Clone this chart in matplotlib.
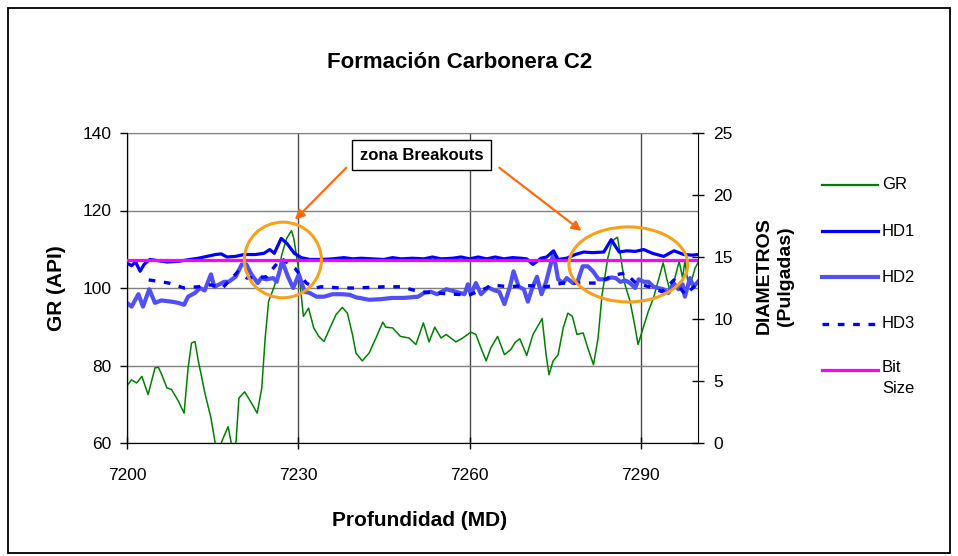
import matplotlib
matplotlib.use("Agg")
import matplotlib.pyplot as plt
from matplotlib.patches import Ellipse, Rectangle
from matplotlib.lines import Line2D

plt.rcParams['font.family'] = ['Liberation Sans', 'DejaVu Sans']

# ---- data ----
gr_depth = [7200.1, 7200.8, 7201.7, 7202.6, 7203.7, 7204.9, 7205.5, 7206.1, 7207.0, 7207.8,
            7209.0, 7210.0, 7210.7, 7211.3, 7211.9, 7212.5, 7213.7, 7214.7, 7215.4, 7216.0,
            7216.6, 7217.7, 7218.6, 7219.1, 7219.6, 7220.6, 7221.6, 7222.8, 7223.6, 7224.2,
            7224.8, 7225.7, 7226.6, 7227.1, 7228.0, 7228.8, 7229.2, 7230.1, 7230.5, 7230.9,
            7231.8, 7232.7, 7233.6, 7234.5, 7235.4, 7236.6, 7237.7, 7238.6, 7239.5, 7240.1,
            7241.2, 7242.4, 7243.6, 7244.8, 7245.3, 7246.5, 7247.9, 7249.4, 7250.6, 7251.9,
            7252.9, 7253.9, 7255.0, 7255.9, 7257.6, 7258.8, 7260.2, 7261.1, 7262.0, 7262.9,
            7263.7, 7264.9, 7266.1, 7267.2, 7268.0, 7268.8, 7270.0, 7271.1, 7272.7, 7273.4,
            7273.9, 7274.6, 7275.5, 7276.4, 7277.2, 7278.0, 7278.8, 7279.9, 7280.7, 7281.7,
            7282.5, 7283.2, 7284.2, 7284.8, 7285.3, 7285.9, 7286.5, 7287.2, 7288.1, 7289.0,
            7289.5, 7290.4, 7291.3, 7292.2, 7293.0, 7293.9, 7294.5, 7295.1, 7295.8, 7296.7,
            7297.3, 7297.7, 7298.3, 7299.0, 7299.5, 7300.0]
gr_api = [75.0, 76.3, 75.5, 77.2, 72.5, 79.4, 79.5, 77.6, 74.2, 73.8,
          70.8, 67.7, 79.4, 85.8, 86.2, 81.1, 72.5, 66.5, 60.4, 57.0,
          60.4, 64.2, 57.5, 60.5, 71.6, 73.2, 70.8, 67.7, 74.2, 87.1,
          96.6, 100.0, 104.3, 108.6, 112.9, 114.8, 112.9, 104.3, 98.3, 92.7,
          94.8, 89.7, 87.5, 86.2, 89.2, 93.1, 95.0, 93.5, 87.9, 83.2,
          81.2, 83.2, 87.1, 91.2, 89.9, 89.7, 87.5, 87.1, 85.4, 91.0,
          86.1, 89.9, 87.1, 88.0, 86.1, 87.1, 88.6, 88.0, 84.5, 81.2,
          84.5, 87.5, 82.8, 84.1, 86.0, 86.9, 82.6, 88.0, 92.1, 82.8,
          77.6, 81.1, 82.8, 89.7, 93.5, 92.7, 88.0, 88.4, 84.5, 80.2,
          87.1, 98.3, 107.7, 111.2, 112.5, 113.1, 107.7, 100.9, 96.6, 89.7,
          85.4, 89.7, 94.0, 97.4, 101.7, 106.5, 102.6, 99.2, 101.7, 106.9,
          102.6, 106.9, 100.9, 102.6, 105.2, 106.5]

hd1_depth = [7200.0, 7200.8, 7201.5, 7202.3, 7203.0, 7204.0, 7205.5, 7207.0, 7209.0, 7211.0,
             7212.5, 7214.0, 7215.5, 7216.5, 7217.5, 7219.0, 7220.5, 7222.5, 7224.0, 7225.0,
             7225.8, 7227.0, 7228.0, 7229.3, 7230.5, 7232.0, 7234.0, 7236.0, 7238.0, 7239.5,
             7241.0, 7243.0, 7245.0, 7246.5, 7248.0, 7250.0, 7252.0, 7253.5, 7255.0, 7257.0,
             7258.5, 7260.0, 7261.5, 7263.0, 7264.5, 7266.0, 7267.5, 7269.0, 7270.0, 7271.1,
             7272.5, 7273.5, 7274.7, 7275.5, 7277.0, 7278.5, 7280.0, 7281.5, 7283.5, 7284.8,
             7286.2, 7287.5, 7289.0, 7290.5, 7292.0, 7294.0, 7295.8, 7297.5, 7299.0, 7300.0]
hd1_in = [14.5, 14.3, 14.6, 13.85, 14.4, 14.8, 14.7, 14.6, 14.65, 14.8,
          14.9, 15.05, 15.2, 15.25, 15.0, 15.05, 15.2, 15.2, 15.3, 15.6,
          15.3, 16.5, 16.1, 15.3, 14.95, 14.8, 14.8, 14.85, 14.95, 14.85,
          14.9, 14.85, 14.8, 14.95, 14.85, 14.9, 14.85, 15.0, 14.85, 14.9,
          15.0, 14.85, 15.0, 14.85, 15.0, 14.85, 14.95, 14.9, 14.85, 14.4,
          14.9, 15.0, 15.5, 14.8, 14.9, 15.2, 15.4, 15.35, 15.4, 16.4,
          15.4, 15.5, 15.45, 15.6, 15.3, 15.05, 15.5, 15.2, 15.15, 15.2]

hd2_depth = [7200.0, 7200.8, 7202.0, 7202.8, 7203.9, 7204.9, 7206.0, 7207.8, 7209.0, 7210.0,
             7210.7, 7211.9, 7212.8, 7213.6, 7214.7, 7215.3, 7216.2, 7217.0, 7217.8, 7219.0,
             7220.1, 7220.9, 7221.8, 7222.9, 7223.5, 7224.4, 7225.6, 7226.2, 7227.2, 7228.2,
             7229.1, 7230.1, 7231.1, 7232.0, 7233.2, 7234.5, 7236.0, 7237.6, 7239.0, 7240.1,
             7242.4, 7244.5, 7246.4, 7248.5, 7251.0, 7252.0, 7253.2, 7254.3, 7255.9, 7257.6,
             7259.1, 7259.7, 7260.2, 7261.1, 7262.0, 7263.2, 7264.4, 7265.2, 7266.1, 7267.0,
             7267.7, 7268.6, 7269.5, 7270.2, 7270.9, 7271.8, 7272.6, 7273.4, 7274.7, 7275.5,
             7276.4, 7277.0, 7278.1, 7278.9, 7279.8, 7280.7, 7281.6, 7282.6, 7283.9, 7284.8,
             7285.6, 7286.4, 7287.3, 7288.1, 7289.0, 7289.6, 7290.5, 7291.3, 7292.2, 7293.0,
             7293.9, 7294.8, 7295.7, 7296.6, 7297.3, 7297.7, 7298.6, 7299.2, 7300.0]
hd2_in = [11.3, 11.0, 12.0, 11.0, 12.4, 11.3, 11.5, 11.4, 11.3, 11.15,
          11.8, 12.1, 12.5, 12.3, 13.6, 12.6, 12.8, 13.0, 13.0, 13.4,
          14.4, 14.4, 13.6, 12.9, 13.3, 13.2, 13.3, 13.0, 14.65, 13.4,
          12.5, 13.6, 12.2, 12.1, 11.8, 11.8, 12.0, 12.0, 11.95, 11.75,
          11.55, 11.6, 11.7, 11.7, 11.8, 12.1, 12.2, 12.0, 12.4, 12.2,
          12.0, 12.8, 12.0, 12.9, 12.0, 12.55, 12.3, 12.2, 11.2, 12.5,
          13.85, 12.6, 12.4, 11.4, 12.4, 13.4, 12.0, 13.0, 15.3, 13.2,
          12.9, 13.3, 12.9, 13.0, 14.25, 14.25, 13.85, 13.2, 13.2, 13.35,
          13.3, 13.0, 13.1, 12.9, 12.5, 13.2, 13.0, 13.0, 12.6, 12.5,
          12.4, 12.1, 12.9, 12.4, 12.8, 11.8, 13.3, 12.6, 13.0]

hd3_depth = [7203.8, 7206.0, 7207.3, 7210.0, 7212.5, 7214.7, 7216.7, 7219.4, 7221.0, 7224.4,
             7227.0, 7229.4, 7231.4, 7233.0, 7234.0, 7237.5, 7240.0, 7245.0, 7248.0, 7251.2,
             7254.2, 7257.0, 7260.0, 7263.0, 7263.8, 7266.8, 7270.0, 7273.5, 7276.3, 7279.2,
             7282.4, 7285.3, 7287.3, 7289.1, 7291.4, 7293.7, 7295.8, 7297.8, 7300.0]
hd3_in = [13.15, 13.0, 12.9, 12.5, 12.6, 12.75, 12.5, 13.8, 13.3, 13.4,
          14.9, 14.1, 12.9, 12.5, 12.6, 12.5, 12.5, 12.6, 12.6, 12.2,
          12.1, 12.0, 11.95, 12.5, 12.75, 12.6, 12.7, 12.6, 12.9, 12.9,
          12.9, 13.55, 13.7, 12.9, 12.6, 12.2, 13.15, 11.95, 12.9]

bit_depth = [7200, 7300]
bit_in = [14.75, 14.75]

x_ticks = [7200, 7230, 7260, 7290]
gr_ticks = [60, 80, 100, 120, 140]
diam_ticks = [0, 5, 10, 15, 20, 25]

legend_labels = ['GR', 'HD1', 'HD2', 'HD3', 'Bit\nSize']

W, H = 958, 556
fig = plt.figure(figsize=(W / 100, H / 100), dpi=100)
ax = fig.add_axes([127 / W, 1 - 443 / H, 571 / W, 310 / H])
ax2 = ax.twinx()

# series
ax.plot(gr_depth, gr_api, color='#008000', lw=1.1, zorder=3)
ax2.plot(hd1_depth, hd1_in, color='#0000FF', lw=2.3, zorder=3)
ax2.plot(hd2_depth, hd2_in, color='#5050F4', lw=3.0, zorder=2)
ax2.plot(hd3_depth, hd3_in, color='#0000FF', lw=2.4, dashes=(2.0, 2.6), zorder=3)
ax2.plot(bit_depth, bit_in, color='#FF00FF', lw=2.3, zorder=4)

# axes
ax.set_xlim(7200, 7300)
ax.set_ylim(60, 140)
ax2.set_ylim(0, 25)
ax.set_xticks(x_ticks)
ax.set_yticks(gr_ticks)
ax2.set_yticks(diam_ticks)

ax.grid(axis='y', color='#808080', lw=1)
ax.grid(axis='x', color='#4a4a4a', lw=1)
ax.set_axisbelow(True)
for s in ['left', 'bottom']:
    ax.spines[s].set_color('black')
ax.spines['top'].set_color('#808080')
ax2.spines['top'].set_visible(False)
ax2.spines['right'].set_color('black')
ax.spines['right'].set_visible(False)

ax.tick_params(axis='y', direction='out', length=5, width=1, labelsize=12.5, pad=6)
ax.tick_params(axis='x', direction='inout', length=8, width=1, labelsize=12.5, pad=14)
ax2.tick_params(axis='y', direction='inout', length=8, width=1, labelsize=12.5, pad=7)

# text labels
fig.text(460 / W, 1 - 62 / H, 'Formación Carbonera C2', ha='center', va='center',
         fontsize=16, fontweight='bold')
fig.text(56 / W, 1 - 288 / H, 'GR (API)', rotation=90, ha='center', va='center',
         fontsize=15, fontweight='bold')
fig.text(420 / W, 1 - 520 / H, 'Profundidad (MD)', ha='center', va='center',
         fontsize=15, fontweight='bold')
fig.text(775 / W, 1 - 276 / H, 'DIAMETROS\n(Pulgadas)', rotation=90, ha='center', va='center',
         fontsize=14, fontweight='bold', linespacing=1.3, multialignment='center')

# breakout zones
ax2.add_patch(Ellipse((7227.3, 14.76), 13.5, 6.1, fill=False, edgecolor='#F7A01C', lw=2.2,
                      zorder=6, clip_on=False))
ax2.add_patch(Ellipse((7287.8, 14.4), 20.8, 6.05, fill=False, edgecolor='#F7A01C', lw=2.2,
                      zorder=6, clip_on=False))
ax2.text(7251.6, 23.2, 'zona Breakouts', ha='center', va='center', fontsize=12,
         fontweight='bold', zorder=7,
         bbox=dict(boxstyle='square,pad=0.45', facecolor='white', edgecolor='black', lw=1))
ax2.annotate('', xy=(7229.4, 18.0), xytext=(7238.4, 22.2),
             arrowprops=dict(arrowstyle='-|>', color='#FF6A10', lw=1.6, mutation_scale=14,
                             shrinkA=0, shrinkB=0), zorder=7)
ax2.annotate('', xy=(7279.6, 17.1), xytext=(7265.2, 22.2),
             arrowprops=dict(arrowstyle='-|>', color='#FF6A10', lw=1.6, mutation_scale=14,
                             shrinkA=0, shrinkB=0), zorder=7)

# legend drawn by hand to the right of the plot
styles = [dict(color='#008000', lw=1.6), dict(color='#0000FF', lw=2.3),
          dict(color='#5050F4', lw=3.0), dict(color='#0000FF', lw=2.4, dashes=(2.0, 2.6)),
          dict(color='#FF00FF', lw=2.3)]
for i, (lab, st) in enumerate(zip(legend_labels, styles)):
    yy = 1 - (185 + i * 46.2) / H
    fig.add_artist(Line2D([822 / W, 878 / W], [yy, yy], transform=fig.transFigure, **st))
    if '\n' in lab:
        fig.text(882 / W, yy + 10 / H, lab, ha='left', va='top', fontsize=12,
                 linespacing=1.55)
    else:
        fig.text(882 / W, yy, lab, ha='left', va='center', fontsize=12)

# outer chart frame
fig.add_artist(Rectangle((8 / W, 1 - 553 / H), 942 / W, 545 / H, transform=fig.transFigure,
                         fill=False, edgecolor='black', lw=1.3))

fig.savefig('out.png', dpi=100)
